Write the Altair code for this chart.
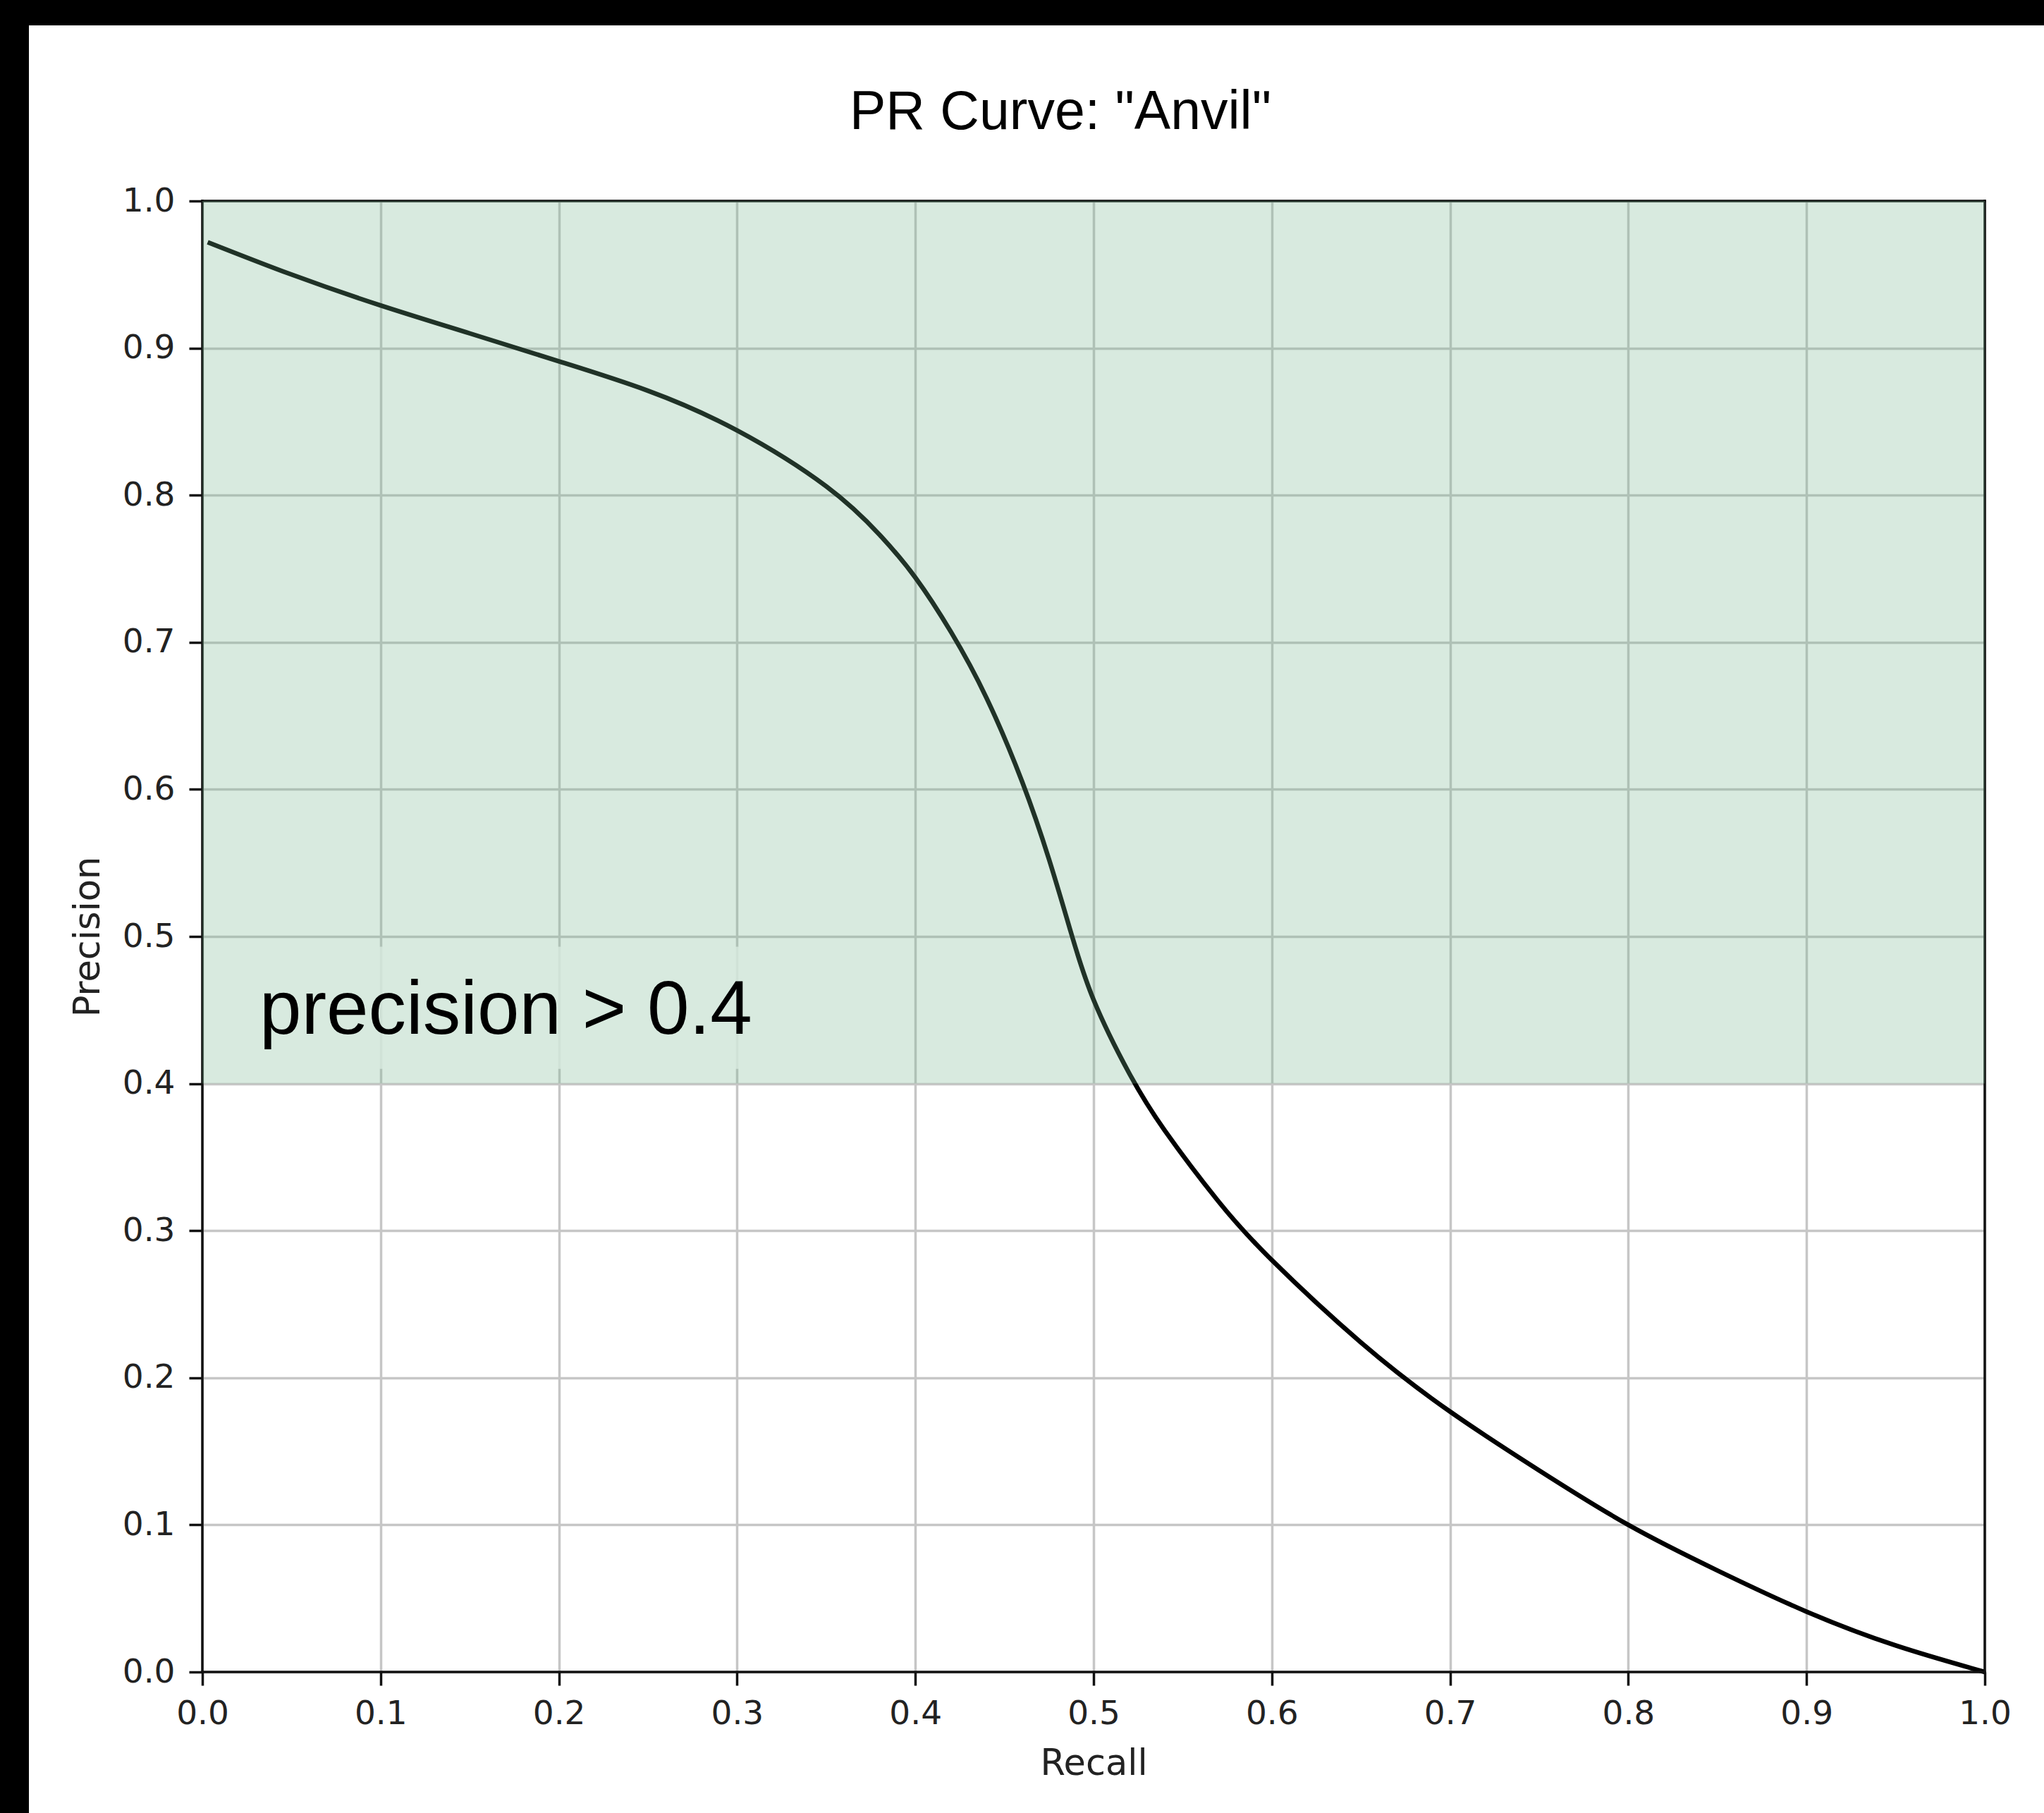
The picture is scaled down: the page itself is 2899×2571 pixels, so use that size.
import altair as alt
import pandas as pd

# ---- data ----
recall = [0.003, 0.05, 0.10, 0.15, 0.20, 0.25, 0.30, 0.35, 0.38, 0.40, 0.42, 0.44,
          0.46, 0.475, 0.487, 0.50, 0.52, 0.54, 0.57, 0.60, 0.65, 0.70, 0.75,
          0.80, 0.85, 0.90, 0.95, 1.00]
precision = [0.972, 0.950, 0.929, 0.910, 0.891, 0.871, 0.844, 0.806, 0.773, 0.744, 0.707, 0.662,
             0.605, 0.5525, 0.504, 0.457, 0.407, 0.368, 0.320, 0.280, 0.224, 0.177, 0.137,
             0.100, 0.069, 0.041, 0.018, 0.000]
tick_values = [0.0, 0.1, 0.2, 0.3, 0.4, 0.5, 0.6, 0.7, 0.8, 0.9, 1.0]
threshold = 0.4
region_x = [0.0, 1.0]
region_y = [threshold, 1.0]
frame_lo, frame_hi = 0.0, 1.0
title_text = 'PR Curve: "Anvil"'
annotation_text = "precision > 0.4"
annotation_pos = [0.032, 0.434]
annotation_box_x = [0.024, 0.322]
annotation_box_y = [0.410, 0.493]

W, H = 2528, 2086
PAD_L, PAD_T, PAD_R, PAD_B = 287, 285, 84, 200

curve = pd.DataFrame({"Recall": recall, "Precision": precision})
region = pd.DataFrame({"x": [region_x[0]], "x2": [region_x[1]],
                       "y": [region_y[0]], "y2": [region_y[1]]})
box = pd.DataFrame({"x": [annotation_box_x[0]], "x2": [annotation_box_x[1]],
                    "y": [annotation_box_y[0]], "y2": [annotation_box_y[1]]})
ann = pd.DataFrame({"x": [annotation_pos[0]], "y": [annotation_pos[1]], "t": [annotation_text]})
spines = pd.DataFrame({
    "x":  [frame_lo, frame_hi, frame_lo, frame_lo],
    "x2": [frame_lo, frame_hi, frame_hi, frame_hi],
    "y":  [frame_lo, frame_lo, frame_lo, frame_hi],
    "y2": [frame_hi, frame_hi, frame_lo, frame_hi],
})
one = pd.DataFrame({"a": [0]})

xscale = alt.Scale(domain=[0, 1], nice=False, zero=False)
yscale = alt.Scale(domain=[0, 1], nice=False, zero=False)

common_axis = dict(
    values=tick_values, format=".1f", grid=True, gridColor="#c6c6c6", gridWidth=3.5,
    domain=False, tickColor="#111111", tickWidth=3.5, tickSize=19,
    labelFont="DejaVu Sans", labelFontSize=47, labelColor="#222222", labelFlush=False,
    labelOverlap=False, titleFont="DejaVu Sans", titleFontSize=51,
    titleFontWeight="normal", titleColor="#222222",
)
xaxis = alt.Axis(title="Recall", labelPadding=17, titlePadding=23, **common_axis)
yaxis = alt.Axis(title="Precision", labelPadding=20, titlePadding=22, **common_axis)

line = alt.Chart(curve).mark_line(color="#000000", strokeWidth=6.5, interpolate="natural").encode(
    x=alt.X("Recall:Q", scale=xscale, axis=xaxis),
    y=alt.Y("Precision:Q", scale=yscale, axis=yaxis),
)

spine = alt.Chart(spines).mark_rule(color="#111111", strokeWidth=3.5, strokeCap="square").encode(
    x=alt.X("x:Q", scale=xscale), x2="x2:Q",
    y=alt.Y("y:Q", scale=yscale), y2="y2:Q",
)

textbox = alt.Chart(box).mark_rect(color="#ffffff", opacity=0.8).encode(
    x=alt.X("x:Q", scale=xscale), x2="x2:Q",
    y=alt.Y("y:Q", scale=yscale), y2="y2:Q",
)

shade = alt.Chart(region).mark_rect(color="#74b48d", opacity=0.28).encode(
    x=alt.X("x:Q", scale=xscale), x2="x2:Q",
    y=alt.Y("y:Q", scale=yscale), y2="y2:Q",
)

label = alt.Chart(ann).mark_text(
    font="Liberation Sans", fontSize=107, color="#000000", align="left", baseline="alphabetic"
).encode(
    x=alt.X("x:Q", scale=xscale), y=alt.Y("y:Q", scale=yscale), text="t:N"
)

title = alt.Chart(one).mark_text(
    font="Liberation Sans", fontSize=77, color="#000000", align="center", baseline="alphabetic"
).encode(x=alt.value(1217), y=alt.value(-102), text=alt.value(title_text))

frame_left = alt.Chart(one).mark_rect(color="#000000").encode(
    x=alt.value(-PAD_L), x2=alt.value(-PAD_L + 41),
    y=alt.value(-PAD_T), y2=alt.value(H + PAD_B),
)
frame_top = alt.Chart(one).mark_rect(color="#000000").encode(
    x=alt.value(-PAD_L), x2=alt.value(W + PAD_R),
    y=alt.value(-PAD_T), y2=alt.value(-PAD_T + 36),
)

chart = alt.layer(line, spine, textbox, shade, label, title, frame_left, frame_top).properties(
    width=W, height=H,
    autosize=alt.AutoSizeParams(type="none"),
    padding={"left": PAD_L, "top": PAD_T, "right": PAD_R, "bottom": PAD_B},
    background="#ffffff",
).configure_view(
    strokeWidth=0
)

chart.save("out.html", embed_options={"renderer": "svg", "actions": False})
